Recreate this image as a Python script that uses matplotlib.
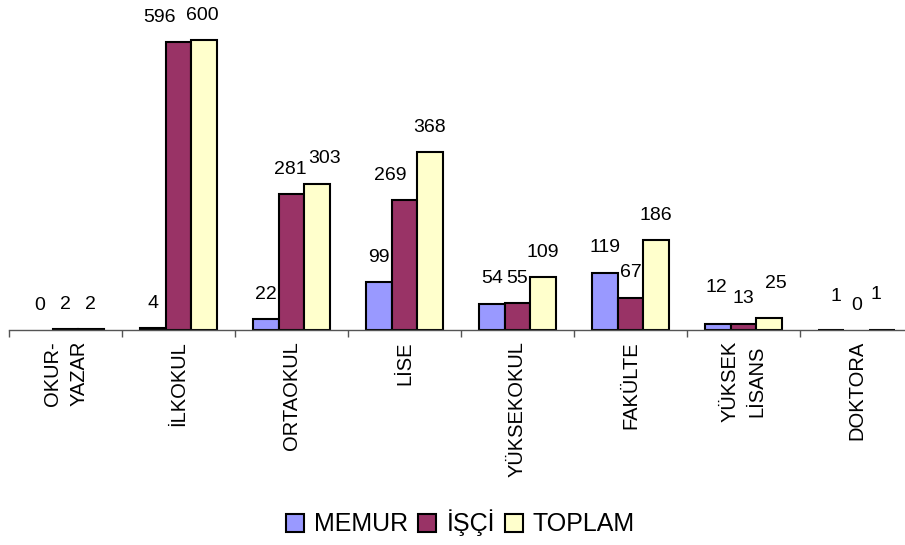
import matplotlib.pyplot as plt
import numpy as np
from matplotlib.patches import Patch

plt.rcParams["font.family"] = ["Liberation Sans", "DejaVu Sans"]

categories = ["OKUR-\nYAZAR", "İLKOKUL", "ORTAOKUL", "LİSE", "YÜKSEKOKUL",
              "FAKÜLTE", "YÜKSEK\nLİSANS", "DOKTORA"]
memur = [0, 4, 22, 99, 54, 119, 12, 1]
isci = [2, 596, 281, 269, 55, 67, 13, 0]
toplam = [2, 600, 303, 368, 109, 186, 25, 1]

series = [("MEMUR", memur, "#9999ff"),
          ("İŞÇİ", isci, "#993366"),
          ("TOPLAM", toplam, "#ffffcc")]

# label nudges (pixels) where the original moved labels to avoid overlaps
nudge = {(1, 1): (-19, 0), (2, 1): (-2, 0), (1, 2): (-1, 0), (2, 2): (8, 0),
         (1, 3): (-14, 0), (0, 6): (-2, 12), (2, 6): (7, 9),
         (0, 7): (5, 8), (2, 7): (-6, 10)}

fig = plt.figure(figsize=(9.05, 5.45), dpi=100)
ax = fig.add_axes([9 / 905, 215 / 545, 904 / 905, 330 / 545])

x = np.arange(len(categories))
w = 0.225
handles = []
for i, (name, vals, col) in enumerate(series):
    pos = x + (i - 1) * w
    bars = ax.bar(pos, vals, width=w, color=col, edgecolor="black", linewidth=1.5)
    handles.append(Patch(facecolor=col, edgecolor="black", linewidth=1.5, label=name))
    for j, (px, v) in enumerate(zip(pos, vals)):
        if v == 0:
            bars[j].set_visible(False)
        dx, dy = nudge.get((i, j), (0, 0))
        ax.annotate(str(v), (px, v), xytext=(dx, 25 + dy), textcoords="offset pixels",
                    ha="center", va="center", fontsize=14)

ax.set_xlim(-0.5, 7.5)
ax.set_ylim(0, 683)
ax.set_yticks([])
for s in ["left", "top", "right"]:
    ax.spines[s].set_visible(False)
ax.spines["bottom"].set_color("#555555")
ax.spines["bottom"].set_linewidth(1)

ax.set_xticks(x)
ax.set_xticklabels(categories, rotation=90, fontsize=14.5, va="top", ha="center",
                   multialignment="center", linespacing=1.5)
ax.tick_params(axis="x", which="major", length=0, pad=8)
ax.set_xticks(np.arange(-0.5, 8, 1), minor=True)
ax.tick_params(axis="x", which="minor", length=5, width=1, color="#555555")

fig.legend(handles=handles, loc="center", bbox_to_anchor=(0.509, 1 - 523 / 545),
           ncol=3, frameon=False, fontsize=18, handlelength=0.72, handleheight=0.72,
           handletextpad=0.4, columnspacing=0.4)

fig.savefig("out.png", dpi=100)
